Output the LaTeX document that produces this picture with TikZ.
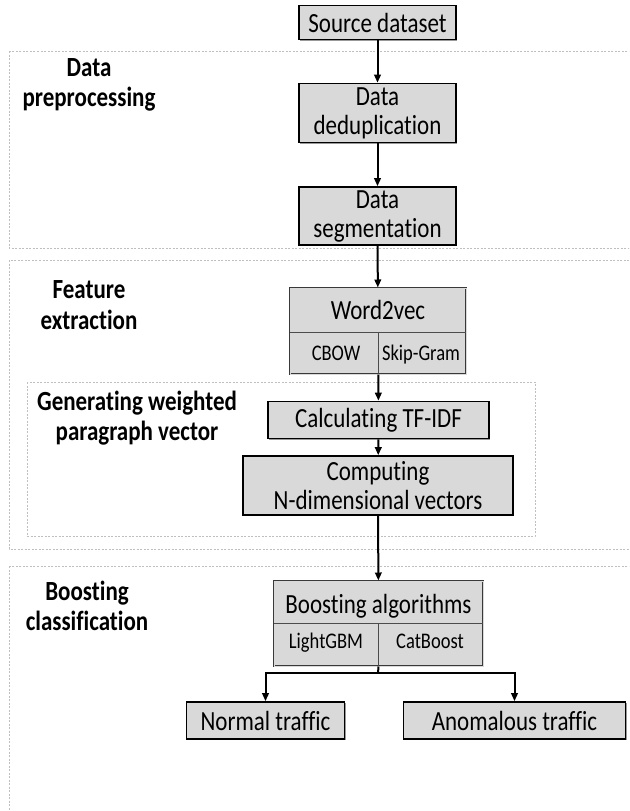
\documentclass[tikz,border=0pt]{standalone}
\usepackage{fontspec}
\setmainfont{Carlito}[FakeStretch=0.83, Ligatures={NoCommon,NoContextual}]
\usetikzlibrary{arrows.meta,calc,shadows}
\definecolor{boxgray}{HTML}{D9D9D9}
\definecolor{regiongray}{HTML}{BFBFBF}
\begin{document}
\begin{tikzpicture}[x=1pt,y=-1pt,
  region/.style={draw=regiongray, dash pattern=on 2pt off 1.5pt, line width=0.7pt},
  procbox/.style={draw=black, fill=boxgray, line width=1.6pt, inner sep=0pt, align=center,
    font=\fontsize{27.7}{29}\selectfont,
    drop shadow={shadow xshift=1pt, shadow yshift=-1pt, fill=gray!80, opacity=1}},
  splitbox/.style={draw=gray!45!black, fill=boxgray, double=gray!30, double distance=0.9pt,
    line width=1pt, inner sep=0pt},
  divider/.style={draw=gray!60!black, line width=0.7pt},
  boxtext/.style={inner sep=0pt, anchor=base, font=\fontsize{27.7}{29}\selectfont},
  subtext/.style={inner sep=0pt, anchor=base, font=\fontsize{22.3}{24}\selectfont},
  grouplabel/.style={inner sep=0pt, align=center, font=\bfseries\fontsize{27.7}{30.5}\selectfont},
  flow/.style={draw=black, line width=2pt, -{Triangle[length=8pt,width=6.5pt]}},
  plainline/.style={draw=black, line width=2pt}
]
\useasboundingbox (0,0) rectangle (629,811);
\clip (0,0) rectangle (629,811);

% regions
\draw[region] (9,51) rectangle (660,248);
\draw[region] (9,260) rectangle (660,549);
\draw[region] (27,382) rectangle (535,536);
\draw[region] (9,566) rectangle (660,840);

% region labels
\node[grouplabel] (lpre) at (89,85) {Data\\preprocessing};
\node[grouplabel] (lfeat) at (89,305) {Feature\\extraction};
\node[grouplabel] (lgen) at (137,418) {Generating weighted\\paragraph vector};
\node[grouplabel] (lboost) at (87,606) {Boosting\\classification};

% boxes
\node[procbox, minimum width=157pt, minimum height=34pt] (src) at (377.5,22.5) {Source dataset};
\node[procbox, minimum width=157pt, minimum height=59pt] (dedup) at (377.5,113) {Data\\deduplication};
\node[procbox, minimum width=157pt, minimum height=58pt] (seg) at (377.5,216) {Data\\segmentation};

\node[splitbox, minimum width=176pt, minimum height=86pt] (w2v) at (378,331) {};
\draw[divider] (290,332) -- (466,332);
\draw[divider] (378,332) -- (378,374);
\node[boxtext] (w2vt) at (378,319) {Word2vec};
\node[subtext] (cbow) at (336,360) {CBOW};
\node[subtext] (skip) at (421,360) {Skip-Gram};

\node[procbox, minimum width=221pt, minimum height=37pt] (tfidf) at (378.5,420) {Calculating TF-IDF};
\node[procbox, minimum width=270pt, minimum height=59pt] (comp) at (378,485.5) {Computing\\N-dimensional vectors};

\node[splitbox, minimum width=209pt, minimum height=85pt] (boost) at (378.5,623.5) {};
\draw[divider] (274,623) -- (483,623);
\draw[divider] (378,623) -- (378,666);
\node[boxtext] (boostt) at (378.5,613) {Boosting algorithms};
\node[subtext] (lgbm) at (326,648) {LightGBM};
\node[subtext] (cat) at (430,648) {CatBoost};

\node[procbox, minimum width=158pt, minimum height=37pt] (normal) at (265.5,720.5) {Normal traffic};
\node[procbox, minimum width=222pt, minimum height=37pt] (anom) at (514.5,720.5) {Anomalous traffic};

% connectors
\draw[flow] (src) -- (dedup);
\draw[flow] (dedup) -- (seg);
\draw[flow] (seg) -- (w2v);
\draw[flow] (w2v) -- (tfidf);
\draw[flow] (tfidf) -- (comp);
\draw[flow] (comp) -- (boost);
\coordinate (branch) at (378,673);
\draw[plainline] (boost.south) -- (branch);
\draw[flow] (branch) -| (normal.north);
\draw[flow] (branch) -| (anom.north);
\end{tikzpicture}
\end{document}
